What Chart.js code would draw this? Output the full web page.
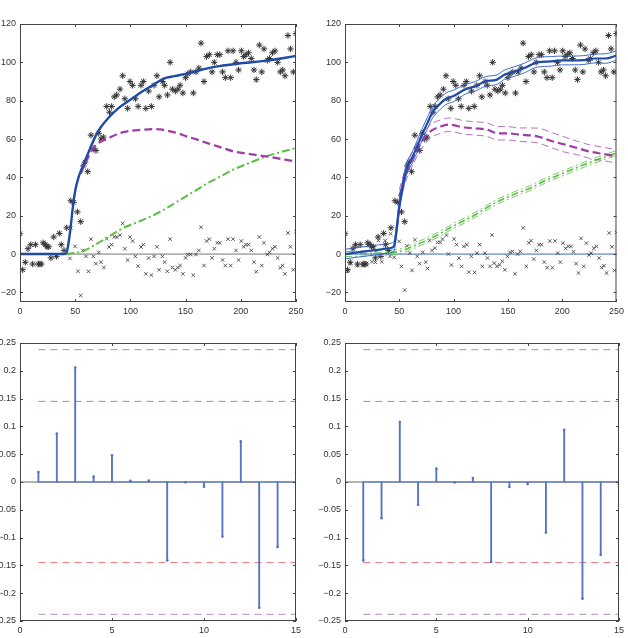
<!DOCTYPE html>
<html>
<head>
<meta charset="utf-8">
<script src="https://cdn.jsdelivr.net/npm/chart.js@4"></script>
<style>
  html, body { margin: 0; padding: 0; background: #fff; }
  #wrap { position: relative; width: 628px; height: 638px; }
  canvas { position: absolute; }
</style>
</head>
<body>
<div id="wrap">
  <canvas id="fitLeft" width="314" height="320" style="left:0;top:0"></canvas>
  <canvas id="fitRight" width="314" height="320" style="left:314px;top:0"></canvas>
  <canvas id="acfLeft" width="314" height="318" style="left:0;top:320px"></canvas>
  <canvas id="acfRight" width="314" height="318" style="left:314px;top:320px"></canvas>
</div>
<script>
// observations (asterisks), same in both top panels
const starX = [0,2.4,4.8,7.2,9.7,11.5,14,16.6,18,19.3,21,23,24.5,26,28,30.5,33,35.6,37.4,39.9,42.3,46,48.6,52,55,57.4,59,61.3,64.3,66.4,68.8,71.3,73.4,75.5,78.5,81,83,85.4,87.6,90.6,93,95,97.5,99.6,102,104.5,107,109.6,111.7,114,116.5,119,121.4,124,126,129,131,133.5,136,138,140.7,143,145,147.6,150,152,154.6,157,159.4,162,164,166.7,169,171.5,174,176,178.7,181,183.5,186,188.4,190.8,193,195.7,198,200.5,202.6,204.7,207,209.5,212,214,216.8,219,221,224,226,228.6,231,233.4,235.8,238,240,242.7,245,247.6,250];
const starY = [10.6,-8.2,-4.3,2.8,4.9,-5.2,4.9,-5.2,-5.2,-5.2,5.9,4.9,3.8,3.8,-2,8.9,-1.2,10.8,4.9,1.9,13.7,27.8,27,22,16.9,46,48,43,62,55,54,63,60,61,77,74,77,82,83,86,93,81,76,90,88,81,77,88,90,76,85,77,88,93,82,90,88,83,100,86,85,86,88,84,92,94,95,84,95,97,110,90,103,104,95,100,104,104,95,92,106,92,106,100,96,106,103,104,105,102,96,91,109,95,107,101,102,105,106,100,95,96,93,114,107,95,115];

// residuals (crosses), left panel
const crossLX = [45.3,46,49.8,52.5,55,56.8,59.8,62,64.3,66.4,68.8,71.3,73.4,76,78.5,80.6,83,85.4,87.6,90.6,93,95,97.5,99.6,102,104.5,107,109.6,111.7,114,116.5,119,121.4,124,126,129,131,133.5,136,138,140.7,143,145,147.6,150,152,154.6,157,159.4,162,164,166.7,169,171.5,174,176,178.7,181,183.5,186,188.4,190.8,193,195.7,198,200.5,202.6,204.7,207,209.5,212,214,216.8,219,221,224,226,228.6,231,233.4,235.8,238,240,242.7,245,247.6,250];
const crossLY = [-2.3,13.7,4,-9,-21.6,1.9,-1.2,-9,7.8,-1.2,-5,0.9,-4.2,-7,8,3.7,4.9,9,8.9,9.9,16,2.8,-3.1,8.9,6.8,-1.2,-6.3,3.7,4.9,-10.3,-2.1,-11,-1.2,3.8,-8.2,-1.2,-4.2,-9,7.8,-7,-8.2,-7,-6,-10.3,-2,-0.2,-0.2,-11,-0.2,1.9,14,-6,6.8,7.8,-2,2.8,5.9,5.9,-3.1,-6,7.8,-6,7.8,1.9,-3.1,6.8,3.8,4.9,4.9,1.9,-4.2,-9.2,8.9,-6,5.9,-0.2,0.9,2.8,3.8,-2,-7.1,-6,-10.3,11,3.8,-8.2,11.7];

// residuals (crosses), right panel
const crossRX = [2.4,4.8,9.7,11.5,16.6,21,24.8,28,28.7,30.8,33.9,36.9,41.4,42,45.3,49.9,52,55,57,59.6,61.7,64.4,66.5,68.6,71.6,74.4,75.9,78,80.1,82.8,85.2,87.7,89.8,93.4,95.2,98,100.4,102.8,104.9,107.3,109.4,112.2,114,116.4,119.4,121.5,124,126.4,128.8,131.2,133.6,135.4,137.5,140,142.4,144.8,147.2,149.6,152,154.2,156.6,159,161.4,164.1,166.9,169.3,171.4,173.8,176.2,178.7,181,183.5,186.2,188.6,191,193.5,195.9,198.3,200.7,203.1,205.6,208,210.4,212.8,215,217.4,219.8,222.2,224.6,226.7,229.1,231.6,234,236.4,238.5,240.9,243.3,245.8,248.2,250];
const crossRY = [-9,-5,4,-6,-6,4.5,-4,-4.3,1.7,7.1,-4,7,-1.2,10.6,-1.7,6.6,-6.4,-18.8,4.3,0.5,-8.5,7.5,-1.2,-5,0.9,-4.2,-7.5,7.1,1.9,3.1,6.1,6.1,7.8,9.9,0,-5.7,7.8,4.9,-2.1,-6.4,4,4.9,-9.4,-1.2,-9.6,0.5,4.9,-6.4,0.5,-2.1,-6.4,9.9,-4.7,-6.4,-5.6,-3.8,-8.2,-1.2,0.9,1.4,-10.3,0,1.4,13.7,-6.4,5.9,7,-2.6,1.9,4.9,4.9,-4.2,-7.1,6.8,-7.1,6.8,0.5,-4.2,5.7,3,4,4,1.2,-5,-9.9,8.2,-6.4,5.7,-0.5,0.5,3,4,-2.1,-7.1,-6.1,-9.9,11,3.8,-8.5,11.3];

// left panel fitted curves
const blueLX = [0,40,42,45,48,50,53,57,62,68,73,80,90,100,110,120,130,140,150,160,175,200,225,250];
const blueLY = [0,0,0.5,10,25,33,40,46,53,61,66,71,76.5,80.5,84.5,88,91.5,92.8,94,95.5,97.5,99.5,101,103.3];
const magLX = [55,60,65,70,78.5,90,97,110,120,127,140,151,160,169,180,193,210,223,235,250];
const magLY = [42,48.5,54,57.5,60,63,64,64.8,65.2,65,63.5,61.4,59.8,58,56,53.6,52,51,49.8,48.3];
const greenLX = [42,57,70,80,90,97,110,120,130,140,150,160,170,180,193,210,223,235,250];
const greenLY = [0,1.5,5.5,9,12.5,14.5,17.5,20,23,26.5,30,33.5,37,40,44,48,51,53,55.3];

// right panel fitted curves with bands
const blueRX = [0,10,20,30,40,45,48,50,53,56.5,62.5,67,71.5,76,80.7,86,93,100,111,120,129,140,147,155,165,177,190,200,210,220,230,240,250];
const blueRY = [0,0.8,1.5,2.2,3,4,15,25,35,44,51,57,63,68.5,74,77.5,81,82.5,86,87.5,90,91,93.6,95,97,100,100.5,101,101,101.2,102,102,103.6];
const blueRHi = [2.5,3.3,4,4.7,5.5,6.5,18,28,38,47,54,60,66,71.5,77,80.5,84,85.5,88.5,90,92.5,93.5,96,97.5,99.5,102.5,103,103.3,103.3,103.5,104.3,104.5,106];
const blueRLo = [-2.5,-1.7,-1,-0.3,0.5,1.5,12,22,32,41,48,54,60,65.5,71,74.5,78,79.5,83.5,85,87.5,88.5,91.2,92.5,94.5,97.5,98,98.7,98.7,98.9,99.7,99.5,101.2];
const magRX = [50,55,60,65,70,75,80,88,96,110,120,130,141,150,160,177,190,200,214,225,240,250];
const magRY = [30,40,47,53,58,62,64.5,66.5,67.5,66,65.5,65,63,63,62.3,61.4,59,57.5,55.3,53.5,52,51];
const magRHi = [33.5,43.5,50.5,56.5,61.5,65.5,68,70,71,69.5,69,68.5,66.5,66.5,65.8,65.7,63.5,61.5,58.8,57,55.5,54.4];
const magRLo = [26.5,36.5,43.5,49.5,54.5,58.5,61,63,64,62.5,62,61.5,59.5,59.5,58.8,58,55.5,53.5,51.8,50,48.5,47.5];
const greenRX = [0,20,40,50,62.6,75,87,99,110,120,130,141,155,171,185,201.6,215,232,250];
const greenRY = [0,0.3,0.8,1.4,4,7.2,10.5,14.4,17.5,20.5,24,27.5,31,34.5,38.5,42.3,45.5,49.2,52.7];
const greenRHi = [1.3,1.6,2.1,2.7,5.3,8.5,11.8,15.7,18.8,21.8,25.3,28.8,32.3,35.8,39.8,43.6,46.8,50.5,54];
const greenRLo = [-1.3,-1,-0.5,0.1,2.7,5.9,9.2,13.1,16.2,19.2,22.7,26.2,29.7,33.2,37.2,41,44.2,47.9,51.4];

// autocorrelation of residuals
const lags = [1,2,3,4,5,6,7,8,9,10,11,12,13,14,15];
const acfL = [0.018,0.087,0.206,0.0096,0.048,0.002,0.0024,-0.141,-0.0006,-0.0084,-0.098,0.073,-0.226,-0.117,0.016];
const acfR = [-0.141,-0.065,0.108,-0.041,0.024,-0.001,0.007,-0.144,-0.009,-0.0036,-0.091,0.094,-0.21,-0.131,-0.004];
const boundOuter = 0.238;
const boundInner = 0.145;

// tick labels
const fitXTicks = [0,50,100,150,200,250];
const fitYTicks = [-20,0,20,40,60,80,100,120];
const acfXTicks = [0,5,10,15];
const acfYTicks = [-0.25,-0.2,-0.15,-0.1,-0.05,0,0.05,0.1,0.15,0.2,0.25];

const FONT = "Helvetica, Arial, 'Liberation Sans', sans-serif";
const BLUE = '#1f4aa8';
const STEM = '#5174c4';

function pts(xs, ys) { return xs.map((x, i) => ({ x: x, y: ys[i] })); }

function line(xs, ys, color, width, dash) {
    return {
        type: 'scatter', data: pts(xs, ys), showLine: true,
        borderColor: color, borderWidth: width, borderDash: dash || [],
        pointRadius: 0, cubicInterpolationMode: 'monotone', fill: false,
    };
}

function marks(xs, ys, style, r, w) {
    return {
        type: 'scatter', data: pts(xs, ys), showLine: false,
        pointStyle: style, pointRadius: r, borderColor: '#333', borderWidth: w,
        backgroundColor: '#333',
    };
}

// matlab-like box with inward ticks
const boxPlugin = {
    id: 'box',
    afterDraw(chart) {
        const { ctx, chartArea: a, scales } = chart;
        ctx.save();
        ctx.strokeStyle = '#444';
        ctx.lineWidth = 1;
        ctx.strokeRect(a.left + 0.5, a.top + 0.5, a.right - a.left - 1, a.bottom - a.top - 1);
        ctx.beginPath();
        scales.x.ticks.forEach(t => {
            const p = Math.round(scales.x.getPixelForValue(t.value)) + 0.5;
            ctx.moveTo(p, a.bottom); ctx.lineTo(p, a.bottom - 3);
            ctx.moveTo(p, a.top); ctx.lineTo(p, a.top + 3);
        });
        scales.y.ticks.forEach(t => {
            const p = Math.round(scales.y.getPixelForValue(t.value)) + 0.5;
            ctx.moveTo(a.left, p); ctx.lineTo(a.left + 3, p);
            ctx.moveTo(a.right, p); ctx.lineTo(a.right - 3, p);
        });
        ctx.stroke();
        ctx.restore();
    }
};

function makeChart(id, datasets, s) {
    const tickFont = { size: 9, family: FONT };
    const fmt = v => String(v).replace('-', '\u2212');
    const noGrid = { display: false, drawTicks: false, tickLength: 0 };
    new Chart(document.getElementById(id), {
        type: 'scatter',
        data: { datasets: datasets },
        options: {
            responsive: false,
            animation: false,
            layout: { padding: { top: s.top, right: s.right, left: 0, bottom: 0 } },
            plugins: { legend: { display: false }, tooltip: { enabled: false } },
            scales: {
                x: {
                    type: 'linear', min: s.xMin, max: s.xMax, offset: false,
                    grid: noGrid, border: { display: false },
                    afterBuildTicks: sc => { sc.ticks = s.xTicks.map(v => ({ value: v })); },
                    afterFit: sc => { sc.height = s.xH; },
                    ticks: { color: '#333', font: tickFont, padding: 4, maxRotation: 0, autoSkip: false, callback: fmt },
                },
                y: {
                    type: 'linear', min: s.yMin, max: s.yMax,
                    grid: noGrid, border: { display: false },
                    afterBuildTicks: sc => { sc.ticks = s.yTicks.map(v => ({ value: v })); },
                    afterFit: sc => { sc.width = s.yW; },
                    ticks: { color: '#333', font: tickFont, padding: 4, autoSkip: false, callback: fmt },
                },
            },
        },
        plugins: [boxPlugin],
    });
}

// top left: fit
makeChart('fitLeft', [
    line(blueLX, blueLY, BLUE, 2.4),
    line(magLX, magLY, '#a03ca8', 2.3, [8, 4]),
    line(greenLX, greenLY, '#58c040', 2, [8, 3, 2, 3]),
    marks(starX, starY, 'star', 3.2, 1),
    marks(crossLX, crossLY, 'crossRot', 2.5, 0.8),
    line([0, 250], [0, 0], '#777', 1),
], { top: 24, right: 18, xH: 18, yW: 20, xMin: 0, xMax: 250, yMin: -25, yMax: 120, xTicks: fitXTicks, yTicks: fitYTicks });

// top right: fit with confidence bands
makeChart('fitRight', [
    line(blueRX, blueRY, BLUE, 2.2),
    line(blueRX, blueRHi, '#2d5cc0', 0.9),
    line(blueRX, blueRLo, '#2d5cc0', 0.9),
    line(magRX, magRY, '#a03ca8', 2.2, [8, 4]),
    line(magRX, magRHi, '#a84cb0', 0.8, [7, 4]),
    line(magRX, magRLo, '#a84cb0', 0.8, [7, 4]),
    line(greenRX, greenRY, '#58c040', 1.6, [7, 3, 2, 3]),
    line(greenRX, greenRHi, '#58c040', 0.8, [7, 3, 2, 3]),
    line(greenRX, greenRLo, '#58c040', 0.8, [7, 3, 2, 3]),
    marks(starX, starY, 'star', 3.2, 1),
    marks(crossRX, crossRY, 'crossRot', 2.5, 0.8),
    line([0, 250], [0, 0], '#3a66c8', 1),
], { top: 24, right: 7, xH: 18, yW: 31, xMin: 0, xMax: 250, yMin: -25, yMax: 120, xTicks: fitXTicks, yTicks: fitYTicks });

function acfSets(vals) {
    return [
        { type: 'scatter', data: pts(lags, vals), pointRadius: 1.3, backgroundColor: STEM, borderWidth: 0 },
        { type: 'bar', data: pts(lags, vals), backgroundColor: STEM, barThickness: 1.2 },
        line([1, 15], [0, 0], STEM, 1.2),
        line([0, 15], [0, 0], '#666', 1),
        line([1, 15], [boundInner, boundInner], '#e87474', 1, [7, 5]),
        line([1, 15], [-boundInner, -boundInner], '#e87474', 1, [7, 5]),
        line([1, 15], [boundOuter, boundOuter], '#b888c8', 1, [7, 5]),
        line([1, 15], [-boundOuter, -boundOuter], '#b888c8', 1, [7, 5]),
    ];
}

makeChart('acfLeft', acfSets(acfL),
    { top: 23, right: 18, xH: 17, yW: 20, xMin: 0, xMax: 15, yMin: -0.25, yMax: 0.25, xTicks: acfXTicks, yTicks: acfYTicks });
makeChart('acfRight', acfSets(acfR),
    { top: 23, right: 7, xH: 17, yW: 31, xMin: 0, xMax: 15, yMin: -0.25, yMax: 0.25, xTicks: acfXTicks, yTicks: acfYTicks });
</script>
</body>
</html>
